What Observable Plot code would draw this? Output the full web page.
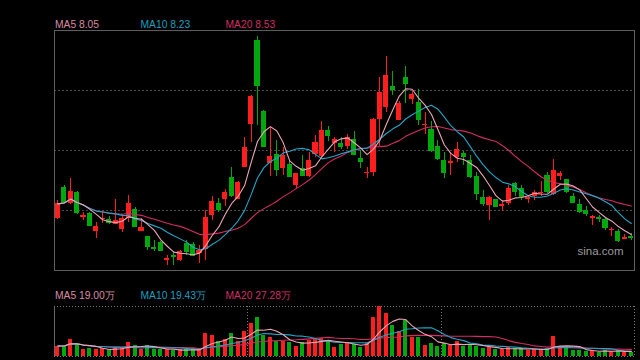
<!DOCTYPE html>
<html><head><meta charset="utf-8">
<script src="https://cdn.jsdelivr.net/npm/d3@7"></script>
<script src="https://cdn.jsdelivr.net/npm/@observablehq/plot@0.6"></script>
<style>
html,body{margin:0;padding:0;background:#000;}
#wrap{position:relative;width:640px;height:360px;background:#000;overflow:hidden;font-family:"Liberation Sans",Arial,sans-serif;}
.lg{position:absolute;font-size:10.3px;white-space:nowrap;line-height:1;}
#main{position:absolute;left:0;top:0;}
#vol{position:absolute;left:0;top:300px;}
</style></head><body>
<div id="wrap"><div id="main"></div><div id="vol"></div></div>
<script>
// ---- data ----
const open = [8.32,8.84,8.56,8.75,8.33,8.40,8.10,8.30,8.30,8.22,
8.13,8.32,8.47,8.10,8.02,7.84,7.92,7.61,7.70,7.62,
7.90,7.88,7.74,7.80,8.36,8.57,8.63,9.00,8.64,9.17,
9.89,11.28,10.10,9.23,9.38,9.15,9.22,8.87,9.15,9.02,
9.38,9.35,9.78,9.57,9.56,9.52,9.63,9.32,9.07,9.09,
9.97,10.16,10.52,9.95,10.66,10.30,10.25,9.86,9.80,9.52,
9.28,9.23,9.33,9.40,9.28,9.02,8.67,8.53,8.63,8.51,
8.57,8.90,8.81,8.63,8.69,8.73,9.03,8.71,9.02,8.96,
8.69,8.55,8.45,8.31,8.34,8.30,8.11,8.10,7.97,8.01];
const high = [8.62,8.86,8.98,8.77,8.42,8.42,8.25,8.43,8.35,8.64,
8.38,8.70,8.50,8.31,8.02,7.95,7.94,7.70,7.77,7.78,
7.95,7.91,7.87,8.45,8.69,8.65,8.80,9.16,8.94,9.66,
10.37,11.35,10.12,9.84,9.62,9.50,9.28,9.06,9.37,9.42,
9.70,9.94,9.85,9.66,9.67,9.72,9.76,9.45,9.17,9.98,
10.66,11.02,10.76,10.26,10.85,10.43,10.47,10.09,9.93,9.61,
9.41,9.42,9.59,9.44,9.37,9.08,8.78,8.69,8.64,8.62,
8.86,8.91,8.87,8.70,8.78,8.94,9.09,9.30,9.10,8.97,
8.73,8.63,8.51,8.37,8.37,8.31,8.17,8.14,8.05,8.07];
const low = [8.30,8.57,8.55,8.38,8.28,8.18,7.99,8.23,8.21,8.21,
8.09,8.25,8.17,8.10,7.78,7.76,7.76,7.53,7.53,7.60,
7.70,7.68,7.57,7.62,8.29,8.42,8.51,8.67,8.63,9.17,
9.59,9.87,9.51,9.02,9.01,9.03,9.01,8.81,9.01,9.00,
9.34,9.31,9.60,9.42,9.46,9.46,9.37,9.15,8.98,9.01,
9.51,10.09,10.37,9.95,10.24,10.22,9.86,9.71,9.42,9.28,
8.99,9.03,9.25,9.20,8.98,8.61,8.52,8.29,8.50,8.43,
8.53,8.68,8.61,8.56,8.61,8.69,8.73,8.70,8.95,8.74,
8.57,8.40,8.35,8.20,8.25,8.11,8.01,7.92,7.96,7.95];
const close = [8.56,8.59,8.77,8.41,8.37,8.20,8.18,8.32,8.25,8.29,
8.31,8.56,8.19,8.17,7.85,7.82,7.78,7.65,7.68,7.76,
7.77,7.70,7.79,8.33,8.60,8.46,8.75,8.70,8.92,9.50,
10.35,10.53,9.51,9.35,9.14,9.36,9.02,9.06,9.03,9.28,
9.58,9.78,9.70,9.64,9.52,9.66,9.38,9.27,9.08,9.97,
10.42,10.70,10.47,10.23,10.57,10.38,9.97,9.88,9.45,9.32,
9.09,9.27,9.47,9.35,9.01,8.74,8.57,8.66,8.51,8.55,
8.81,8.77,8.69,8.66,8.75,8.75,8.76,9.12,9.06,8.76,
8.59,8.44,8.40,8.35,8.31,8.17,8.13,7.95,8.00,8.00];
// volume, in 万
const volume = [41,41,70,48,25,29,25,32,22,34,
37,54,45,25,45,25,25,25,22,25,
25,29,25,91,86,58,66,91,58,99,
132,157,86,78,58,58,54,41,54,62,
70,74,62,37,46,54,48,37,51,158,
206,174,124,99,148,76,78,45,51,41,
51,44,58,41,48,41,29,34,25,25,
37,29,30,22,26,27,30,80,41,30,
22,21,18,22,16,24,18,22,16,15];
const maNames = ["MA5","MA10","MA20"];
const maPeriods = [5,10,20];
const priceMALabels = ["8.05","8.23","8.53"];
const volMALabels = ["19.00万","19.43万","27.28万"];
const priceDomain = [7.4583, 11.4583];
const volDomain = [0, 206];
const monthBreaks = [30, 60];

// ---- styles ----
const RED = "#ff1e1e", GREEN = "#00a80b";
const lineColors = ["#eaa6b8", "#1fa7c9", "#d42c64"];
const labelColors = ["#d98ca0", "#1c9ebf", "#d02e63"];
const labelX = [55, 140.5, 225.5];

const N = close.length;
const idx = d3.range(N);
const rows = idx.map(i => ({i, o: open[i], h: high[i], l: low[i], c: close[i], v: volume[i],
  col: close[i] >= open[i] ? RED : GREEN}));
function ma(arr, k) { return arr.map((_, i) => d3.mean(arr.slice(Math.max(0, i - k + 1), i + 1))); }
const priceMA = maPeriods.map(k => ma(close, k));
const volMA = maPeriods.map(k => ma(volume, k));

const L = 54, R = 634, step = (R - L) / N;
const xScale = {type: "band", domain: idx, paddingInner: 0.224, paddingOuter: 0.112, round: false, axis: null};
const svgStyle = {background: "transparent", fontFamily: "Liberation Sans, Arial, sans-serif"};
const grid = d3.range(1, 4).map(k => priceDomain[0] + k * (priceDomain[1] - priceDomain[0]) / 4);

const main = Plot.plot({
  width: 640, height: 275, marginLeft: L, marginRight: 640 - R, marginTop: 29.5, marginBottom: 5.5,
  x: xScale, y: {domain: priceDomain, axis: null}, color: {type: "identity"}, style: svgStyle,
  marks: [
    Plot.ruleY(grid, {stroke: "#4a4a4a", strokeDasharray: "2,2", shapeRendering: "crispEdges"}),
    Plot.frame({stroke: "#5e5e5e", shapeRendering: "crispEdges"}),
    Plot.ruleX(rows, {x: "i", y1: "l", y2: "h", stroke: "col", shapeRendering: "crispEdges"}),
    Plot.barY(rows, {x: "i", y1: "o", y2: "c", fill: "col", shapeRendering: "crispEdges"}),
    Plot.tickY(rows, {x: "i", y: "c", stroke: "col", shapeRendering: "crispEdges"}),
    ...[2, 1, 0].map(j => Plot.line(rows, {x: "i", y: d => priceMA[j][d.i], stroke: lineColors[j], strokeWidth: 1.1})),
    Plot.text(["sina.com"], {frameAnchor: "bottom-right", dx: -11, dy: -15, fill: "#9a9a9a", fontSize: 11.5})
  ]
});
document.getElementById("main").appendChild(main);

const vol = Plot.plot({
  width: 640, height: 60, marginLeft: L, marginRight: 640 - R, marginTop: 5.5, marginBottom: 4.5,
  x: xScale, y: {domain: volDomain, axis: null}, color: {type: "identity"}, style: svgStyle,
  marks: [
    Plot.ruleY(volDomain, {stroke: "#777", strokeDasharray: "1,2", shapeRendering: "crispEdges"}),
    Plot.ruleX([0], {x: d => d, dx: -step / 2, stroke: "#666", shapeRendering: "crispEdges"}),
    Plot.ruleX(monthBreaks, {x: d => d, dx: -step / 2, stroke: "#777", strokeDasharray: "1,2", shapeRendering: "crispEdges"}),
    Plot.ruleX([N - 1], {x: d => d, dx: step / 2, stroke: "#777", strokeDasharray: "1,2", shapeRendering: "crispEdges"}),
    Plot.barY(rows, {x: "i", y: "v", fill: "col", insetLeft: 0.5, insetRight: 0.5, shapeRendering: "crispEdges"}),
    ...[2, 1, 0].map(j => Plot.line(rows, {x: "i", y: d => volMA[j][d.i], stroke: lineColors[j], strokeWidth: 1.1}))
  ]
});
document.getElementById("vol").appendChild(vol);

// legends
const wrap = document.getElementById("wrap");
function addLegend(texts, top) {
  texts.forEach((t, j) => {
    const d = document.createElement("div");
    d.className = "lg";
    d.style.left = labelX[j] + "px";
    d.style.top = top + "px";
    d.style.color = labelColors[j];
    d.textContent = maNames[j] + " " + t;
    wrap.appendChild(d);
  });
}
addLegend(priceMALabels, 19.5);
addLegend(volMALabels, 290.5);
</script>
</body></html>
